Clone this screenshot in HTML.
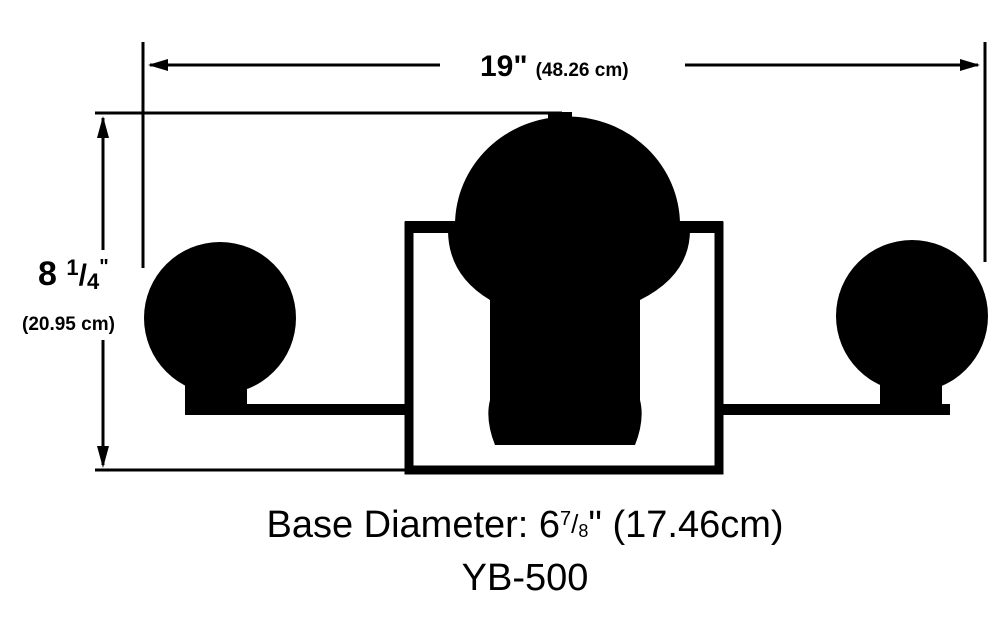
<!DOCTYPE html>
<html><head><meta charset="utf-8"><style>
html,body{margin:0;padding:0;background:#fff;}
svg{display:block;font-family:"Liberation Sans",sans-serif;}
</style></head><body>
<svg width="1000" height="640" viewBox="0 0 1000 640">
<g stroke="#000" stroke-width="3" fill="none">
  <line x1="143" y1="42" x2="143" y2="268"/>
  <line x1="985" y1="42" x2="985" y2="262"/>
  <line x1="150" y1="65" x2="440" y2="65"/>
  <line x1="685" y1="65" x2="978" y2="65"/>
</g>
<polygon points="148,65 168,59 168,71" fill="#000"/>
<polygon points="980,65 960,59 960,71" fill="#000"/>
<text x="480" y="76" font-size="30" font-weight="bold">19"<tspan font-size="19" dx="8">(48.26 cm)</tspan></text>

<g stroke="#000" stroke-width="3" fill="none">
  <line x1="95" y1="113" x2="562" y2="113"/>
  <line x1="95" y1="470" x2="410" y2="470"/>
  <line x1="103" y1="118" x2="103" y2="250"/>
  <line x1="103" y1="340" x2="103" y2="465"/>
</g>
<polygon points="103,116 97,138 109,138" fill="#000"/>
<polygon points="103,468 97,446 109,446" fill="#000"/>
<text x="38" y="285" font-size="34" font-weight="bold">8 <tspan font-size="22" dy="-10">1</tspan><tspan font-size="30" dy="10">/</tspan><tspan font-size="22" dy="4">4</tspan><tspan font-size="20" dy="-16">"</tspan></text>
<text x="22" y="330" font-size="19" font-weight="bold">(20.95 cm)</text>

<g fill="#000">
  <circle cx="220" cy="318" r="76"/>
  <rect x="185" y="380" width="62" height="26"/>
  <rect x="185" y="404" width="225" height="11"/>
</g>
<g fill="#000">
  <circle cx="912" cy="316" r="76"/>
  <rect x="880" y="380" width="62" height="26"/>
  <rect x="715" y="404" width="235" height="11"/>
</g>

<g>
  <rect x="409" y="226" width="310" height="244" fill="none" stroke="#000" stroke-width="9"/>
  <rect x="405" y="221" width="318" height="12" fill="#000"/>
</g>

<g fill="#000">
  <path d="M455 225 A112 108 0 0 1 680 225 Z"/>
  <rect x="548" y="112" width="24" height="10"/>
  <path d="M448 230 L690 230 Q690 275 640 300 L640 400 Q645 420 635 445 L495 445 Q485 420 490 400 L490 300 Q448 275 448 230 Z"/>
</g>

<text x="525" y="537" font-size="38" text-anchor="middle">Base Diameter: 6<tspan font-size="20" dy="-12">7</tspan><tspan font-size="26" dy="8">/</tspan><tspan font-size="18" dy="4">8</tspan><tspan dy="0">" (17.46cm)</tspan></text>
<text x="525" y="590" font-size="38" text-anchor="middle">YB-500</text>
</svg>
</body></html>
